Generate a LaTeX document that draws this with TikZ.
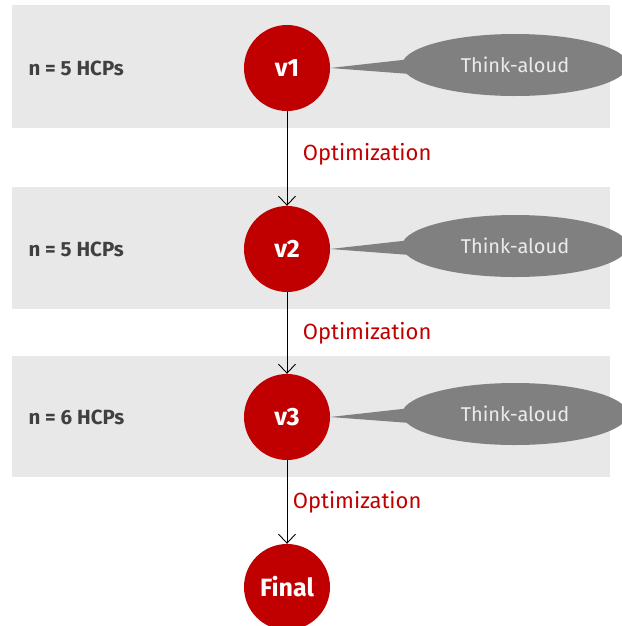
\documentclass[tikz,border=0pt]{standalone}
\usepackage{fontspec}
\setmainfont{Fira Sans}
\usepackage{tikz}
\usetikzlibrary{shapes.callouts,arrows.meta}
\definecolor{bandGray}{HTML}{E8E8E8}
\definecolor{versionRed}{HTML}{C00000}
\definecolor{bubbleGray}{HTML}{808080}
\definecolor{countText}{HTML}{404040}

\begin{document}
\begin{tikzpicture}[
  x=1pt,
  y=-1pt,
  band/.style={
    fill=bandGray,
    draw=none,
  },
  version/.style={
    circle,
    fill=versionRed,
    minimum size=86pt,
    inner sep=0pt,
    text=white,
    font=\fontsize{25}{28}\selectfont\bfseries,
  },
  bubble/.style={
    ellipse callout,
    fill=bubbleGray,
    minimum width=226pt,
    minimum height=62pt,
    inner sep=0pt,
    callout pointer arc=26,
    text=white!92!black,
    font=\fontsize{20}{24}\selectfont,
  },
  count/.style={
    anchor=west,
    text=countText,
    font=\fontsize{20.5}{24}\selectfont\bfseries,
  },
  optim/.style={
    text=versionRed,
    font=\fontsize{22}{26}\selectfont,
  },
  flow/.style={
    draw=black,
    line width=0.9pt,
    -{Straight Barb[length=9pt,width=17pt,line width=0.9pt]},
  }
]
\useasboundingbox (0,0) rectangle (621,626);
% grey bands behind the versions
\foreach \top/\bot in {5/128,187/309,356/477}
  \fill[band] (12,\top) rectangle (610,\bot);
% versions and their test rounds
\foreach \k/\y/\n in {1/68/5,2/249/5,3/417/6}
{
  \node[version] (v\k) at (287,\y) {v\k};
  \node[count] (n\k) at (25,\y) {n = \n\ HCPs};
  \node[bubble,callout absolute pointer={(v\k.east)}] (t\k) at (515,\y-3) {Think-aloud};
}
\node[version] (final) at (287,587) {Final};
% optimization steps
\draw[flow] (v1) -- node[optim,pos=0.45,anchor=west,xshift=12pt] (o1) {Optimization} (v2);
\draw[flow] (v2) -- node[optim,pos=0.5,anchor=west,xshift=12pt] (o2) {Optimization} (v3);
\draw[flow] (v3) -- node[optim,pos=0.5,anchor=west,xshift=2pt] (o3) {Optimization} (final);
\end{tikzpicture}
\end{document}
